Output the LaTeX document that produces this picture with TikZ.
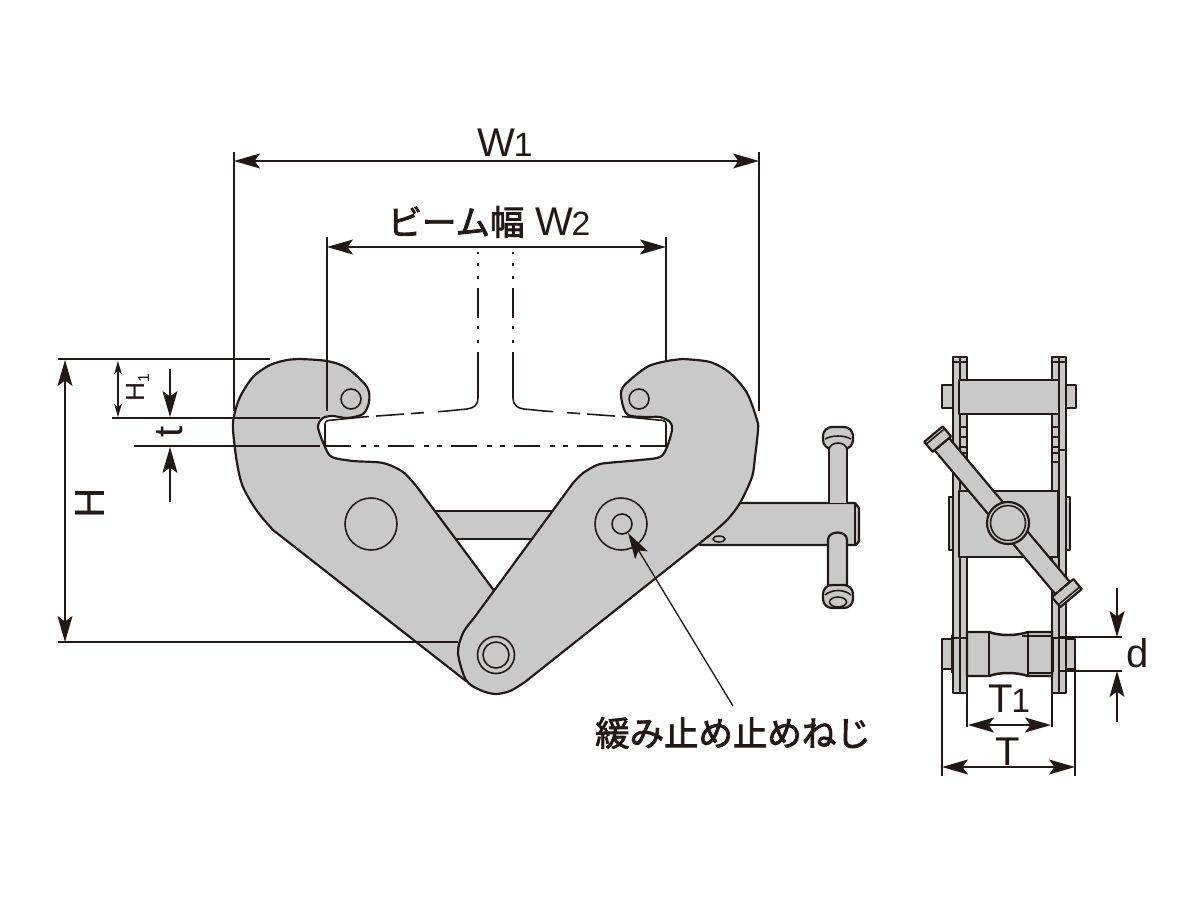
\documentclass[tikz,border=0pt]{standalone}
\usepackage{fontspec}
\setmainfont{Liberation Sans}
\newfontfamily\jpfont[FakeBold=2.5]{Noto Sans CJK JP}
\usetikzlibrary{arrows.meta}
\definecolor{inkline}{HTML}{231815}
\definecolor{steel}{HTML}{C9C9C9}
\newcommand{\digit}[1]{\kern-0.5pt{\fontsize{9.6}{12}\selectfont #1}}
\tikzset{
  part/.style={draw=inkline,fill=steel,line width=0.62pt,line join=round},
  thinpart/.style={draw=inkline,line width=0.45pt},
  dimline/.style={draw=inkline,line width=0.38pt},
  dimarrow/.style={dimline,{Stealth[length=2.6mm,width=1.5mm,inset=0.55mm]}-{Stealth[length=2.6mm,width=1.5mm,inset=0.55mm]}},
  dimsmall/.style={dimline,{Stealth[length=1.3mm,width=0.75mm,inset=0.3mm]}-{Stealth[length=1.3mm,width=0.75mm,inset=0.3mm]}},
  dimhead/.style={dimline,-{Stealth[length=2.6mm,width=1.5mm,inset=0.55mm]}},
  dimlabel/.style={text=inkline,inner sep=0pt,font=\fontsize{11.4}{13}\selectfont},
  jplabel/.style={text=inkline,inner sep=0pt,font=\fontsize{9.8}{12}\selectfont\jpfont}
}
\begin{document}
\begin{tikzpicture}[x=0.1mm,y=-0.1mm]
\useasboundingbox (0,0) rectangle (1200,900);

% Cross bars behind the jaws
\draw[part] (430,511) rectangle (560,539);
\draw[part] (700,503) -- (855,503) -- (859,508) -- (859,541) -- (856,545) -- (700,545) -- cycle;
\draw[thinpart] (855,503) -- (855,545);
\draw[thinpart] (719,539) ellipse (6 and 3);

% Upper screw
\draw[part] (829,503) -- (829,440) -- (847,440) -- (847,503);
\draw[part,rounded corners=0.9mm] (823,427) rectangle (853,449);
\draw[part,draw=none] (830,446) rectangle (846,452);
\draw[thinpart] (825,439) .. controls (832,435) and (844,435) .. (851,439);
\draw[thinpart] (829,449) .. controls (831,441) and (845,441) .. (847,449);

% Lower screw
\draw[part] (828,587) -- (828,540) .. controls (828,530) and (847,530) .. (847,540) -- (847,587);
\draw[part,rounded corners=0.9mm] (823,585) rectangle (853,608);
\draw[thinpart] (825,595) .. controls (832,589) and (844,589) .. (851,595);
\draw[thinpart] (838,602) ellipse (8.5 and 5);

% Left jaw
\draw[part] plot[smooth,tension=0.5] coordinates {
  (300,359) (327,361) (347,368) (367,387) (369,402) (363,414) (347,418) (333,416) (323,418) (318,427)
  (325,447) (332,457) (353,461) (383,463) (403,472) (417,487)
} -- (495,592) -- (495,690) -- (466,681) -- plot[smooth,tension=0.5] coordinates {
  (273,530) (257,511) (243,487) (237,463) (233,430) (234,416) (240,397) (253,377) (270,365) (287,360) (300,359)
} -- cycle;

% Right jaw
\draw[part] plot[smooth,tension=0.5] coordinates {
  (683,359) (667,361) (647,367) (623,387) (622,402) (628,415) (647,417) (660,417) (670,422) (672,430)
  (667,447) (660,457) (640,460) (607,463) (597,465) (583,473) (573,483)
} -- plot[smooth,tension=0.5] coordinates {
  (474,618) (463,633) (458,653) (466,680) (480,690) (495,694) (510,691) (525,682)
} -- plot[smooth,tension=0.5] coordinates {
  (710,535) (727,520) (740,503) (752,477) (755,457) (758,430) (757,420) (747,393) (730,373) (710,362) (683,359)
} -- cycle;

% Pins on the jaws
\foreach \cx/\cy/\cr in {351/399/10,639/399/10,371/524/26,621/524/26,622/524/10,496/655/18.5,496/655/13} {
  \draw[thinpart] (\cx,\cy) circle (\cr);
}

% Beam section
\fill[white] (325,423) -- (333,420) -- (363,417) -- (363,446) -- (325,446) -- cycle;
\fill[white] (666,423) -- (658,420) -- (628,417) -- (628,446) -- (666,446) -- cycle;
\draw[thinpart] (363,417) -- (333,420) .. controls (328,420) and (325,421) .. (325,424) -- (325,447);
\draw[thinpart] (628,417) -- (658,420) .. controls (663,420) and (666,421) .. (666,424) -- (666,447);
\draw[thinpart,dash pattern=on 0.6mm off 0.7mm on 2.8mm off 0.7mm on 1.3mm off 1.4mm on 2mm off 1mm] (363,417) -- (447,411);
\draw[thinpart,dash pattern=on 0.6mm off 0.7mm on 2.8mm off 0.7mm on 1.3mm off 1.4mm on 2mm off 1mm] (628,417) -- (544,411);
\draw[thinpart] (447,411) -- (467,409) .. controls (474,408) and (478,405) .. (478,398) -- (478,354);
\draw[thinpart] (544,411) -- (524,409) .. controls (517,408) and (513,405) .. (513,398) -- (513,354);
\foreach \bx in {478,513} {
  \draw[thinpart,dash pattern=on 0.2mm off 0.9mm on 0.3mm off 1mm on 0.3mm off 0.9mm on 3mm off 0.8mm on 0.3mm off 1.1mm on 0.3mm off 0.9mm] (\bx,252) -- (\bx,354);
}
\draw[thinpart,dash pattern=on 2.6mm off 1mm on 0.5mm off 0.8mm on 0.5mm off 0.9mm] (325,446) -- (666,446);

% W1 and W2
\draw[dimline] (234,152) -- (234,411);
\draw[dimline] (759,152) -- (759,411);
\draw[dimarrow] (234,161) -- (759,161);
\node[dimlabel,anchor=base west] (labelWone) at (477,156) {W\digit{1}};
\draw[dimline] (327,237) -- (327,411);
\draw[dimline] (666,237) -- (666,360);
\draw[dimarrow] (327,247) -- (666,247);
\node[dimlabel,anchor=base west] (labelWtwo) at (387,235) {{\jpfont\fontsize{9.8}{12}\selectfont ビーム幅} W\digit{2}};

% H, H1 and t
\draw[dimline] (58,359) -- (270,359);
\draw[dimline] (58,642) -- (458,642);
\draw[dimarrow] (65,360) -- (65,642);
\node[dimlabel,rotate=90,font=\fontsize{12}{14}\selectfont] (labelH) at (90,503) {H};
\draw[dimline] (112,418) -- (320,418);
\draw[dimline] (134,446) -- (320,446);
\draw[dimsmall] (118,361) -- (118,417);
\node[dimlabel,rotate=90,font=\fontsize{7.5}{9}\selectfont] (labelHone) at (138,388) {H\raisebox{-0.3ex}{\fontsize{4.5}{5}\selectfont 1}};
\draw[dimhead] (170,369) -- (170,417);
\draw[dimhead] (170,502) -- (170,447);
\node[dimlabel,rotate=90] (labelt) at (170,432) {t};

% Set screw arrow
\coordinate (setscrew) at (628,533);
\node[jplabel] (labelscrew) at (733,733) {緩み止め止めねじ};
\draw[dimhead] (733,706) -- (setscrew);

% Side view plates
\foreach \px in {953,1052} {
  \draw[part,line width=0.8pt] (\px,357) rectangle ({\px+14},693);
  \draw[thinpart] ({\px+7},357) -- ({\px+7},693);
  \draw[thinpart] (\px,362) -- ({\px+14},362);
  \draw[thinpart] (\px,638) -- ({\px+14},638);
}
\foreach \ty in {427,437,447,453,462} {
  \draw[thinpart] (960,\ty) -- (967,\ty);
  \draw[thinpart] (1052,\ty) -- (1059,\ty);
}
\draw[thinpart] (1059,450) -- (1066,450);

% Side view upper block
\draw[part] (942,385) rectangle (953,408);
\draw[part] (1066,385) rectangle (1076,408);
\draw[part,line width=0.8pt] (959,380) rectangle (1059,414);

% Side view middle block
\draw[part,line width=0.45pt] (949,497) rectangle (953,550);
\draw[part,line width=0.45pt] (1066,497) rectangle (1070,550);
\draw[part,line width=0.8pt] (959,491) rectangle (1058,557);

% Side view tilted screw
\begin{scope}[shift={(1008,523)},rotate=-50]
  \draw[part] (-103,-9.5) rectangle (85,9.5);
  \draw[part] (-116,-12) rectangle (-103,12);
  \draw[thinpart] (-113,-11) -- (-113,11);
  \draw[part] (85,-14) rectangle (98,14);
  \draw[thinpart] (95,-13) -- (95,13);
\end{scope}
\draw[part] (1008,523) circle (21);
\draw[thinpart] (1008,523) circle (17.5);

% Side view lower roller
\draw[part] (942,639) rectangle (952,669);
\draw[part] (1066,639) rectangle (1075,669);
\draw[part,line width=0.7pt] (989,632) -- (967,632) -- (967,676) -- (989,676) .. controls (1000,672) and (1016,672) .. (1028,676)
  -- (1052,676) -- (1052,632) -- (1028,632) .. controls (1016,636) and (1000,636) .. (989,632) -- cycle;
\draw[thinpart] (989,632) -- (989,676);
\draw[thinpart] (1028,632) -- (1028,676);
\draw[thinpart] (1022,636) -- (1052,636);
\draw[thinpart] (1028,673) -- (1052,673);
\fill[inkline] (951,635) rectangle (954,673);
\fill[inkline] (1051,637) rectangle (1054,672);

% T, T1 and d
\draw[dimline] (942,669) -- (942,776);
\draw[dimline] (1075,669) -- (1075,776);
\draw[dimarrow] (942,767) -- (1075,767);
\node[dimlabel,anchor=base] (labelT) at (1008,765) {T};
\draw[dimline] (967,693) -- (967,727);
\draw[dimline] (1052,693) -- (1052,727);
\draw[dimarrow] (968,725) -- (1051,725);
\node[dimlabel,anchor=base west] (labelTone) at (988,712) {T\digit{1}};
\draw[dimline] (1060,637) -- (1122,637);
\draw[dimline] (1060,671) -- (1122,671);
\draw[dimhead] (1117,588) -- (1117,637);
\draw[dimhead] (1117,722) -- (1117,671);
\node[dimlabel] (labeld) at (1138,653) {d};

\end{tikzpicture}
\end{document}
